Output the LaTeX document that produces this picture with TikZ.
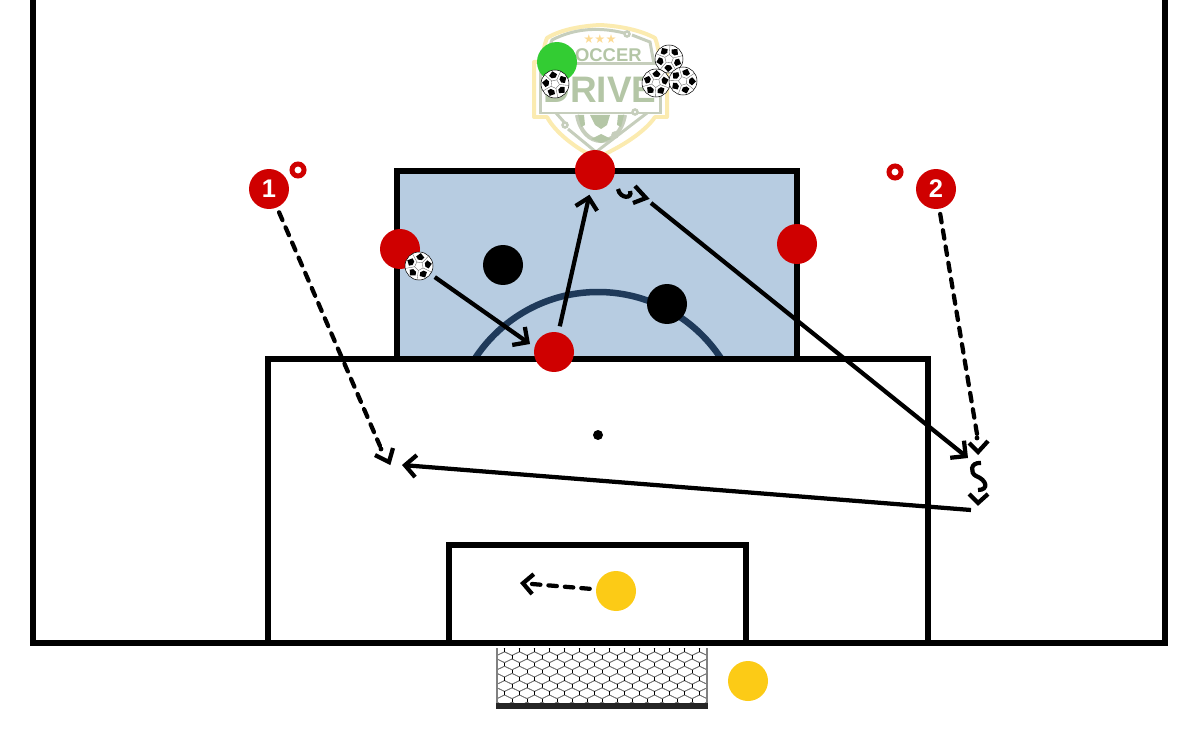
\documentclass[tikz,border=0pt]{standalone}
\usepackage{fontspec}
\setmainfont{Liberation Sans}
\newfontfamily\starfont{DejaVu Sans}
\usepackage{tikz}
\usetikzlibrary{arrows.meta}
\definecolor{playerred}{HTML}{CF0000}
\definecolor{keeperyellow}{HTML}{FCCB16}
\definecolor{markgreen}{HTML}{33CC33}
\definecolor{zoneblue}{HTML}{B7CCE1}
\definecolor{arcnavy}{HTML}{1F3A5A}
\definecolor{logoyellow}{HTML}{FBEBB0}
\definecolor{logogreen}{HTML}{B4C6A6}
\definecolor{logogrey}{HTML}{C6CEBC}
\tikzset{
  fieldline/.style={line width=0.135cm,black},
  player/.style={circle,fill=playerred,minimum size=0.8cm,inner sep=0pt,text=white,font=\fontsize{14.5}{15}\selectfont\bfseries},
  defender/.style={circle,fill=black,minimum size=0.8cm,inner sep=0pt},
  keeper/.style={circle,fill=keeperyellow,minimum size=0.8cm,inner sep=0pt},
  ring/.style={circle,draw=playerred,line width=0.1cm,fill=white,minimum size=0.24cm,inner sep=0pt},
  ball/.style={circle,draw=black,line width=0.3pt,fill=white,minimum size=0.56cm,inner sep=0pt,
    path picture={\foreach \a in {#1,72+#1,144+#1,216+#1,288+#1}{
      \draw[black!60,line width=0.2pt] (\a+36:0.09cm) -- (\a+36:0.28cm) (\a-36:0.09cm) -- (\a+36:0.09cm);
      \fill[black] (\a-17:0.13cm) -- (\a+17:0.13cm) -- (\a+24:0.2cm) -- (\a:0.26cm) -- (\a-24:0.2cm) -- cycle;}}},
  pass/.style={line width=0.085cm,-{Straight Barb[length=0.22cm,width=0.44cm,line width=0.085cm]}},
  run/.style={line width=0.085cm,line cap=round,dash pattern=on 0.17cm off 0.16cm},
  runarrow/.style={run,-{Straight Barb[length=0.2cm,width=0.4cm,line width=0.085cm]}},
  runmark/.style={line width=0.085cm,black},
}
\begin{document}
\begin{tikzpicture}[x=0.02cm,y=-0.02cm]
\useasboundingbox (0,0) rectangle (1200,750);

% logo
\draw[logoyellow,line width=0.08cm,line join=round] (600,25) .. controls (580,26) and (560,30) .. (547,38) .. controls (544,45) and (543,55) .. (542,62) -- (534,62) -- (534,117) -- (547,117) .. controls (555,132) and (575,148) .. (596,158) .. controls (620,148) and (645,132) .. (655,117) -- (667,117) -- (667,62) -- (660,62) .. controls (659,55) and (658,45) .. (655,38) .. controls (640,30) and (620,26) .. (600,25);
\draw[logogrey,line width=0.06cm] (624,33) .. controls (600,27) and (575,28) .. (552,40) .. controls (549,48) and (548,56) .. (547,64);
\draw[logogrey,line width=0.06cm] (632,35) -- (650,42) -- (654,64);
\draw[logogrey,line width=0.06cm] (540,64) -- (660,64) -- (660,113) -- (638,113);
\draw[logogrey,line width=0.06cm] (632,113) -- (540,113) -- (540,64);
\draw[logogrey,line width=0.06cm] (556,113) -- (564,122);
\draw[logogrey,line width=0.06cm] (568,129) -- (596,152) -- (647,113);
\draw[logogrey,line width=0.05cm,fill=white] (627,34) circle (2.5) (635,112) circle (2.5) (565,125) circle (2.5) (615,135) circle (2.5);
\draw[logogrey,line width=0.08cm] (577,115) .. controls (580,132) and (590,141) .. (601,141) .. controls (612,141) and (622,132) .. (625,115);
\fill[logogreen] (590,115) -- (610,115) -- (607,125) -- (601,129) -- (595,125) -- cycle;
\fill[logogreen] (601,134) -- (611,139) -- (601,143) -- (591,139) -- cycle;
\fill[logogreen] (578,115) -- (584,115) -- (585,125) -- (581,127) -- cycle;
\fill[logogreen] (624,115) -- (618,115) -- (617,125) -- (621,127) -- cycle;
\node (stars) at (600,39) [inner sep=0pt,text=logoyellow!85!orange,font=\fontsize{7}{8}\selectfont\starfont] {★★★};
\node (soccer) at (642,55) [anchor=east,inner sep=0pt,text=logogreen,font=\fontsize{10.5}{11}\selectfont\bfseries] {SOCCER};
\node (drive) at (600,90) [inner sep=0pt,text=logogreen,font=\fontsize{21}{22}\selectfont\bfseries] {DRIVE};

% zone and field
\fill[zoneblue] (397,171) rectangle (797,359);
\begin{scope}
\clip (397,171) rectangle (797,359);
\draw[arcnavy,line width=0.13cm] (598,439) circle (147);
\end{scope}
\draw[fieldline] (397,359) -- (397,171) -- (797,171) -- (797,359);
\draw[fieldline] (33,0) -- (33,643) -- (1165,643) -- (1165,0);
\draw[fieldline] (268,643) -- (268,359) -- (928,359) -- (928,643);
\draw[fieldline] (449,643) -- (449,545) -- (746,545) -- (746,643);
\node (spot) at (598,435) [circle,fill=black,minimum size=0.2cm,inner sep=0pt] {};

% goal
\begin{scope}
\clip (497,648) rectangle (707,703);
\foreach \col in {0,...,14}{
  \foreach \row/\off in {0/0,1/7.5,2/0,3/7.5,4/0,5/7.5,6/0,7/7.5,8/0}{
    \draw[black!55,line width=0.4pt,shift={(497+15*\col+\off,650+7.2*\row)}] (-7.5,-1.8) -- (0,-5.4) -- (7.5,-1.8) (7.5,1.8) -- (0,5.4) -- (-7.5,1.8);
    \draw[black,line width=0.55pt,shift={(497+15*\col+\off,650+7.2*\row)}] (-7.5,-1.8) -- (-7.5,1.8);
  }
}
\end{scope}
\draw[gray,line width=0.04cm] (497,703) -- (497,648) (707,648) -- (707,703);
\fill[black!85] (496,703) rectangle (708,709);

% players
\node (one) at (269,189) [player] {1};
\node (two) at (936,189) [player] {2};
\node (ringone) at (298,170) [ring] {};
\node (ringtwo) at (895,172) [ring] {};
\node (left) at (400,249) [player] {};
\node (top) at (595,170) [player] {};
\node (right) at (797,244) [player] {};
\node (bottom) at (554,352) [player] {};
\node (blackone) at (503,265) [defender] {};
\node (blacktwo) at (667,304) [defender] {};
\node (green) at (557,62) [circle,fill=markgreen,minimum size=0.8cm,inner sep=0pt] {};
\node (keeperone) at (616,591) [keeper] {};
\node (keepertwo) at (748,681) [keeper] {};

% balls
\node (ballleft) at (419,266) [ball=10] {};
\node (ballgreen) at (555,84) [ball=30] {};
\node (ballone) at (669,59) [ball=50] {};
\node (balltwo) at (656,83) [ball=15] {};
\node (ballthree) at (683,81) [ball=70] {};

% free ends
\coordinate (firstend) at (530,344);
\coordinate (passend) at (651,203);
\coordinate (crossend) at (968,458);
\coordinate (crossstart) at (971,510);
\coordinate (shotend) at (402,465);
\coordinate (runoneend) at (380,446);
\coordinate (runtwoend) at (977,434);
\coordinate (keeperend) at (520,583);

\path
(ballleft) edge [pass, shorten <=0.1cm] (firstend)
(bottom) edge [pass, shorten <=0.12cm, shorten >=0.1cm] (top)
(passend) edge [pass] (crossend)
(crossstart) edge [pass] (shotend)
(one) edge [run, shorten <=0.1cm] (runoneend)
(two) edge [run, shorten <=0.1cm] (runtwoend)
(keeperone) edge [runarrow, shorten <=0.12cm] (keeperend);

% run marks
\fill (381,449) circle (2.4) (977,438) circle (2.4);
\draw[runmark] (375,455) -- (389,462) -- (393,448);
\draw[runmark] (969,443) -- (978,452) -- (988,441);
\draw[runmark] (969,494) -- (978,503) -- (988,494);
\draw[runmark] (981,463) .. controls (970,462) and (970,473) .. (976,476) .. controls (987,480) and (989,490) .. (978,490);
\draw[runmark] (635,186) -- (646,198) -- (633,203);
\draw[runmark] (618,189) .. controls (620,199) and (633,199) .. (630,191);
\end{tikzpicture}
\end{document}
